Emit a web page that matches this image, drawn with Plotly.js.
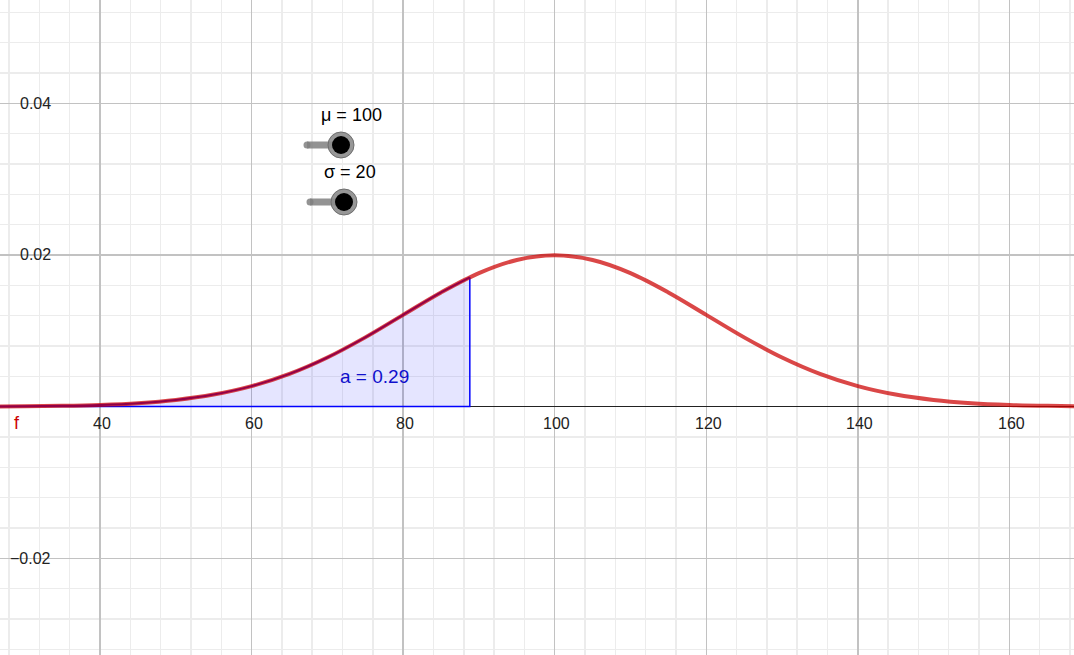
<!DOCTYPE html>
<html>
<head>
<meta charset="utf-8">
<script src="https://cdn.plot.ly/plotly-3.0.1.min.js"></script>
<style>html,body{margin:0;padding:0;background:#fff;}#chart{width:1074px;height:655px;}</style>
</head>
<body>
<div id="chart"></div>
<script>
// Curve f (normal density, mu = 100, sigma = 20)
const curveX = [25,30,35,40,45,50,55,60,65,70,75,80,85,90,95,100,105,110,115,120,125,130,135,140,145,150,155,160,165,170];
const curveY = [0.000018,0.000044,0.000102,0.000222,0.000455,0.000876,0.001587,0.0027,0.004315,0.006476,0.009132,0.012099,0.015057,0.017603,0.019333,0.019947,0.019333,0.017603,0.015057,0.012099,0.009132,0.006476,0.004315,0.0027,0.001587,0.000876,0.000455,0.000222,0.000102,0.000044];

// Shaded integral a: from the left up to x = 88.8
const areaUpper = 88.8;
const areaUpperY = 0.01705;
const areaLabel = "a = 0.29";

// Sliders
const sliderLabels = ["μ = 100", "σ = 20"];

// Axis ticks
const xTickVals = [40,60,80,100,120,140,160];
const xTickText = ["40","60","80","100","120","140","160"];
const yTickVals = [0.04,0.02,-0.02];
const yTickText = ["0.04","0.02","−0.02"];

const W = 1074, H = 655;
const px = v => v / W;
const py = v => 1 - v / H;
const FONT = "Liberation Sans, Arial, sans-serif";

// shaded region points
const shadeX = [], shadeY = [];
curveX.forEach((x, i) => { if (x < areaUpper) { shadeX.push(x); shadeY.push(curveY[i]); } });
shadeX.push(areaUpper); shadeY.push(areaUpperY);

const traces = [
  { x: shadeX, y: shadeY, type: 'scatter', mode: 'lines', fill: 'tozeroy',
    fillcolor: 'rgba(0,0,255,0.1)', line: { color: '#0000ff', width: 2, shape: 'spline', smoothing: 1 },
    hoverinfo: 'skip', showlegend: false },
  { x: [shadeX[0], areaUpper, areaUpper], y: [0, 0, areaUpperY], type: 'scatter', mode: 'lines',
    line: { color: '#0000ff', width: 1.5 }, hoverinfo: 'skip', showlegend: false },
  { x: curveX, y: curveY, type: 'scatter', mode: 'lines', opacity: 0.72,
    line: { color: '#cc0000', width: 4, shape: 'spline', smoothing: 1 },
    hoverinfo: 'skip', showlegend: false }
];

const annotations = [];
xTickVals.forEach((v, i) => annotations.push({
  x: v, y: 0, xref: 'x', yref: 'y', text: xTickText[i], showarrow: false,
  xanchor: 'center', yanchor: 'top', xshift: 2, yshift: -6,
  font: { family: FONT, size: 16, color: '#222' }
}));
yTickVals.forEach((v, i) => annotations.push({
  x: px(53), y: v, xref: 'paper', yref: 'y', text: yTickText[i], showarrow: false,
  xanchor: 'right', yanchor: 'middle', font: { family: FONT, size: 16, color: '#222' }
}));
annotations.push({ x: px(17), y: py(423), xref: 'paper', yref: 'paper', text: 'f', showarrow: false,
  xanchor: 'center', yanchor: 'middle', font: { family: FONT, size: 18, color: '#cc0000' } });
annotations.push({ x: px(351), y: py(115), xref: 'paper', yref: 'paper', text: sliderLabels[0], showarrow: false,
  xanchor: 'center', yanchor: 'middle', font: { family: FONT, size: 18, color: '#000' } });
annotations.push({ x: px(350), y: py(172), xref: 'paper', yref: 'paper', text: sliderLabels[1], showarrow: false,
  xanchor: 'center', yanchor: 'middle', font: { family: FONT, size: 18, color: '#000' } });
annotations.push({ x: px(374), y: py(376), xref: 'paper', yref: 'paper', text: areaLabel, showarrow: false,
  xanchor: 'center', yanchor: 'middle', font: { family: FONT, size: 19, color: '#1010cc' } });

function slider(x0, x1, y) {
  return [
    { type: 'line', xref: 'paper', yref: 'paper', x0: px(x0), x1: px(x1), y0: py(y), y1: py(y),
      line: { color: 'rgba(128,128,128,0.85)', width: 7 } },
    { type: 'circle', xref: 'paper', yref: 'paper', x0: px(x0 - 3.5), x1: px(x0 + 3.5), y0: py(y + 3.5), y1: py(y - 3.5),
      fillcolor: 'rgba(128,128,128,0.85)', line: { width: 0 } },
    { type: 'circle', xref: 'paper', yref: 'paper', x0: px(x1 - 13), x1: px(x1 + 13), y0: py(y + 13), y1: py(y - 13),
      fillcolor: 'rgba(140,140,140,0.9)', line: { color: '#6e6e6e', width: 1 } },
    { type: 'circle', xref: 'paper', yref: 'paper', x0: px(x1 - 9), x1: px(x1 + 9), y0: py(y + 9), y1: py(y - 9),
      fillcolor: '#000', line: { width: 0 } }
  ];
}

const layout = {
  width: W, height: H,
  margin: { l: 0, r: 0, t: 0, b: 0 },
  paper_bgcolor: '#fff', plot_bgcolor: '#fff',
  showlegend: false,
  xaxis: { range: [26.8, 168.53], tick0: 0, dtick: 20, showgrid: true, gridcolor: '#c2c2c2', gridwidth: 1.5,
    minor: { dtick: 4, showgrid: true, gridcolor: '#ececec', gridwidth: 1.5 },
    showticklabels: false, ticks: '', zeroline: false, showline: false, fixedrange: true },
  yaxis: { range: [-0.032755, 0.053622], tick0: 0, dtick: 0.02, showgrid: true, gridcolor: '#c2c2c2', gridwidth: 1.5,
    minor: { dtick: 0.004, showgrid: true, gridcolor: '#ececec', gridwidth: 1.5 },
    showticklabels: false, ticks: '', zeroline: true, zerolinecolor: '#222', zerolinewidth: 1.5,
    showline: false, fixedrange: true },
  annotations: annotations,
  shapes: [].concat(slider(307, 341, 145), slider(310, 344, 202))
};

Plotly.newPlot('chart', traces, layout, { displayModeBar: false, staticPlot: true });
</script>
</body>
</html>
